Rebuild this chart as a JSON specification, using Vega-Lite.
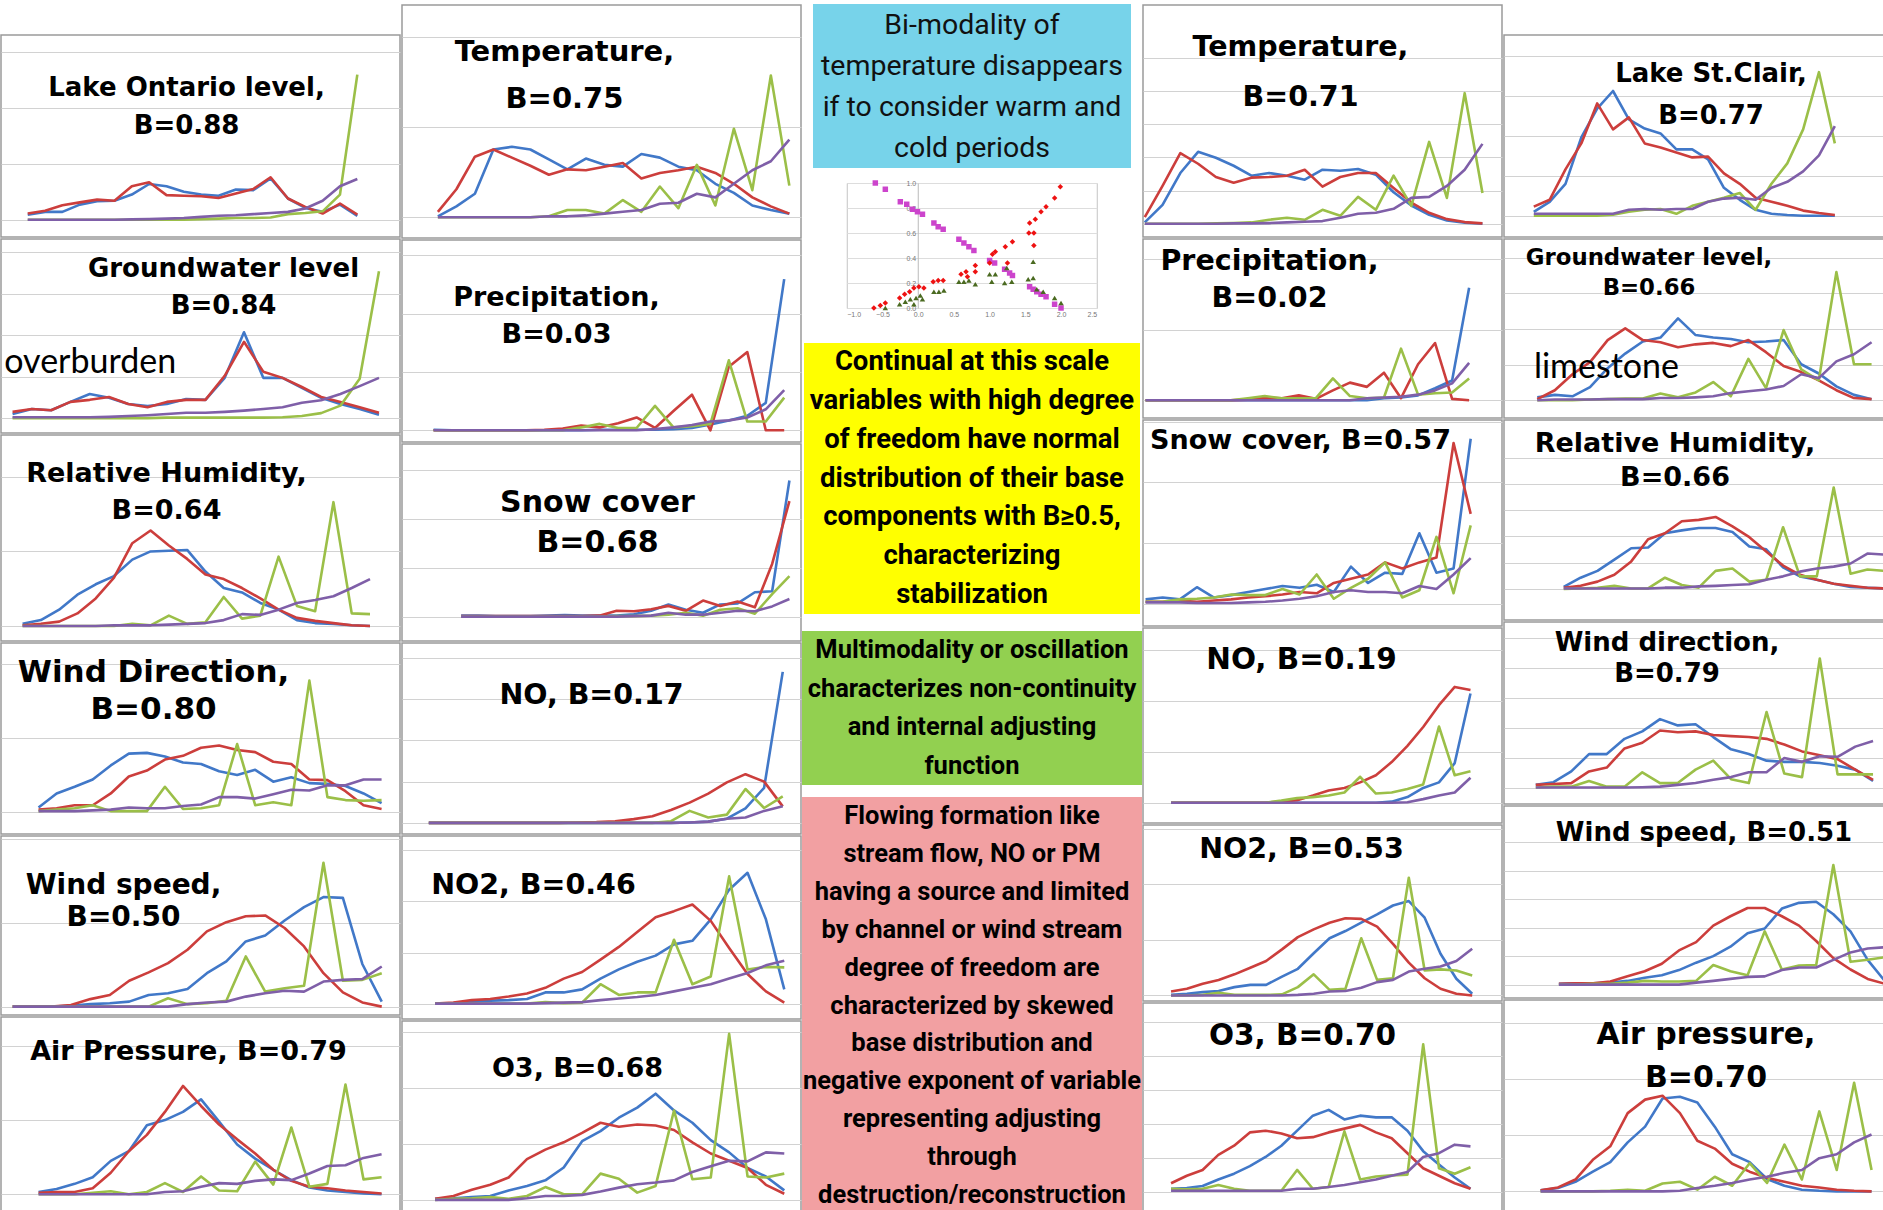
{
"$schema":"https://vega.github.io/schema/vega-lite/v6.json",
"padding":0,
"background":"white",
"spacing":0,
"config":{
 "view":{"stroke":"#9a9a9a","strokeWidth":1.5},
 "axisY":{"labels":false,"ticks":false,"domain":false,"gridColor":"#d2d2d2","gridWidth":1.2,"minExtent":0},
 "title":{"font":"DejaVu Sans","fontWeight":"bold","color":"#000000","anchor":"middle","frame":"group"},
 "line":{"strokeWidth":2.6,"strokeJoin":"round"},
 "range":{"category":["#4178c8","#9bbf48","#7f5fa8","#cc3e3c"]},
 "concat":{"spacing":0}
},
"datasets":{
"a1":[{"i":0,"b":0.09,"r":0.11,"g":0,"p":0},{"i":1,"b":0.14,"r":0.16,"g":0,"p":0},{"i":2,"b":0.14,"r":0.26,"g":0,"p":0},{"i":3,"b":0.27,"r":0.31,"g":0,"p":0},{"i":4,"b":0.33,"r":0.36,"g":0,"p":0},{"i":5,"b":0.34,"r":0.34,"g":0,"p":0},{"i":6,"b":0.45,"r":0.6,"g":0,"p":0.005},{"i":7,"b":0.64,"r":0.67,"g":0,"p":0.01},{"i":8,"b":0.6,"r":0.44,"g":0,"p":0.02},{"i":9,"b":0.5,"r":0.43,"g":0,"p":0.03},{"i":10,"b":0.45,"r":0.42,"g":0.01,"p":0.05},{"i":11,"b":0.43,"r":0.39,"g":0.02,"p":0.07},{"i":12,"b":0.54,"r":0.47,"g":0.03,"p":0.08},{"i":13,"b":0.53,"r":0.55,"g":0.03,"p":0.1},{"i":14,"b":0.74,"r":0.76,"g":0.04,"p":0.12},{"i":15,"b":0.38,"r":0.38,"g":0.1,"p":0.14},{"i":16,"b":0.21,"r":0.23,"g":0.12,"p":0.2},{"i":17,"b":0.14,"r":0.11,"g":0.15,"p":0.34},{"i":18,"b":0.27,"r":0.29,"g":0.45,"p":0.6},{"i":19,"b":0.07,"r":0.09,"g":2.6,"p":0.73}],
"a2":[{"i":0,"b":0.1,"r":0.15,"g":0,"p":0.02},{"i":1,"b":0.22,"r":0.22,"g":0,"p":0.02},{"i":2,"b":0.19,"r":0.19,"g":0,"p":0.02},{"i":3,"b":0.39,"r":0.39,"g":0,"p":0.02},{"i":4,"b":0.58,"r":0.44,"g":0,"p":0.02},{"i":5,"b":0.49,"r":0.51,"g":0,"p":0.03},{"i":6,"b":0.34,"r":0.34,"g":0,"p":0.05},{"i":7,"b":0.29,"r":0.26,"g":0,"p":0.07},{"i":8,"b":0.34,"r":0.39,"g":0.01,"p":0.1},{"i":9,"b":0.46,"r":0.44,"g":0.01,"p":0.13},{"i":10,"b":0.44,"r":0.44,"g":0.01,"p":0.13},{"i":11,"b":0.97,"r":1.02,"g":0.01,"p":0.15},{"i":12,"b":2.07,"r":1.84,"g":0.01,"p":0.18},{"i":13,"b":0.97,"r":1.12,"g":0.01,"p":0.22},{"i":14,"b":0.97,"r":0.97,"g":0.02,"p":0.26},{"i":15,"b":0.73,"r":0.75,"g":0.05,"p":0.37},{"i":16,"b":0.49,"r":0.51,"g":0.12,"p":0.43},{"i":17,"b":0.34,"r":0.39,"g":0.3,"p":0.58},{"i":18,"b":0.22,"r":0.26,"g":0.95,"p":0.77},{"i":19,"b":0.08,"r":0.13,"g":3.54,"p":0.97}],
"a3":[{"i":0,"b":0.03,"r":0.01,"g":0,"p":0},{"i":1,"b":0.08,"r":0.03,"g":0,"p":0},{"i":2,"b":0.22,"r":0.06,"g":0,"p":0},{"i":3,"b":0.42,"r":0.17,"g":0,"p":0},{"i":4,"b":0.56,"r":0.37,"g":0,"p":0},{"i":5,"b":0.67,"r":0.65,"g":0,"p":0.01},{"i":6,"b":0.89,"r":1.11,"g":0.03,"p":0.01},{"i":7,"b":1.0,"r":1.28,"g":0.01,"p":0.01},{"i":8,"b":1.01,"r":1.08,"g":0.14,"p":0.02},{"i":9,"b":1.02,"r":0.9,"g":0.03,"p":0.03},{"i":10,"b":0.73,"r":0.69,"g":0.05,"p":0.04},{"i":11,"b":0.51,"r":0.63,"g":0.39,"p":0.08},{"i":12,"b":0.45,"r":0.51,"g":0.1,"p":0.16},{"i":13,"b":0.31,"r":0.37,"g":0.14,"p":0.15},{"i":14,"b":0.22,"r":0.22,"g":0.93,"p":0.22},{"i":15,"b":0.08,"r":0.11,"g":0.27,"p":0.31},{"i":16,"b":0.04,"r":0.07,"g":0.2,"p":0.35},{"i":17,"b":0.03,"r":0.04,"g":1.66,"p":0.4},{"i":18,"b":0.01,"r":0.01,"g":0.17,"p":0.51},{"i":19,"b":0,"r":0,"g":0.16,"p":0.63}],
"a4":[{"i":0,"b":0.06,"r":0.03,"g":0.01,"p":0.01},{"i":1,"b":0.25,"r":0.05,"g":0.03,"p":0.01},{"i":2,"b":0.34,"r":0.09,"g":0.05,"p":0.01},{"i":3,"b":0.44,"r":0.09,"g":0.09,"p":0.02},{"i":4,"b":0.63,"r":0.25,"g":0.01,"p":0.03},{"i":5,"b":0.79,"r":0.48,"g":0.01,"p":0.06},{"i":6,"b":0.8,"r":0.56,"g":0.01,"p":0.05},{"i":7,"b":0.75,"r":0.71,"g":0.34,"p":0.05},{"i":8,"b":0.67,"r":0.76,"g":0.04,"p":0.08},{"i":9,"b":0.65,"r":0.87,"g":0.05,"p":0.1},{"i":10,"b":0.55,"r":0.9,"g":0.09,"p":0.2},{"i":11,"b":0.5,"r":0.84,"g":0.92,"p":0.2},{"i":12,"b":0.57,"r":0.81,"g":0.09,"p":0.18},{"i":13,"b":0.41,"r":0.68,"g":0.13,"p":0.24},{"i":14,"b":0.47,"r":0.65,"g":0.09,"p":0.3},{"i":15,"b":0.39,"r":0.44,"g":1.78,"p":0.29},{"i":16,"b":0.38,"r":0.43,"g":0.2,"p":0.36},{"i":17,"b":0.35,"r":0.28,"g":0.16,"p":0.36},{"i":18,"b":0.25,"r":0.09,"g":0.15,"p":0.44},{"i":19,"b":0.12,"r":0.04,"g":0.16,"p":0.44}],
"a5":[{"i":0,"b":0,"r":0,"g":0,"p":0},{"i":1,"b":0,"r":0,"g":0,"p":0},{"i":2,"b":0,"r":0,"g":0,"p":0},{"i":3,"b":0.01,"r":0.02,"g":0,"p":0},{"i":4,"b":0.03,"r":0.09,"g":0,"p":0},{"i":5,"b":0.04,"r":0.14,"g":0,"p":0},{"i":6,"b":0.06,"r":0.31,"g":0,"p":0},{"i":7,"b":0.14,"r":0.41,"g":0,"p":0},{"i":8,"b":0.16,"r":0.52,"g":0.1,"p":0},{"i":9,"b":0.21,"r":0.68,"g":0.03,"p":0.03},{"i":10,"b":0.4,"r":0.9,"g":0.04,"p":0.05},{"i":11,"b":0.54,"r":1.01,"g":0.07,"p":0.06},{"i":12,"b":0.78,"r":1.08,"g":0.6,"p":0.12},{"i":13,"b":0.85,"r":1.09,"g":0.18,"p":0.16},{"i":14,"b":1.03,"r":0.94,"g":0.22,"p":0.19},{"i":15,"b":1.19,"r":0.72,"g":0.25,"p":0.18},{"i":16,"b":1.31,"r":0.4,"g":1.72,"p":0.3},{"i":17,"b":1.3,"r":0.17,"g":0.31,"p":0.32},{"i":18,"b":0.51,"r":0.05,"g":0.32,"p":0.33},{"i":19,"b":0.06,"r":0,"g":0.4,"p":0.48}],
"a6":[{"i":0,"b":0.03,"r":0.02,"g":0,"p":0},{"i":1,"b":0.07,"r":0.03,"g":0,"p":0},{"i":2,"b":0.14,"r":0.03,"g":0,"p":0},{"i":3,"b":0.23,"r":0.08,"g":0.02,"p":0},{"i":4,"b":0.45,"r":0.29,"g":0.04,"p":0},{"i":5,"b":0.58,"r":0.58,"g":0,"p":0},{"i":6,"b":0.93,"r":0.8,"g":0.03,"p":0},{"i":7,"b":1.0,"r":1.11,"g":0.15,"p":0.03},{"i":8,"b":1.11,"r":1.46,"g":0.03,"p":0.04},{"i":9,"b":1.28,"r":1.19,"g":0.24,"p":0.1},{"i":10,"b":0.98,"r":0.94,"g":0.05,"p":0.15},{"i":11,"b":0.67,"r":0.74,"g":0.04,"p":0.14},{"i":12,"b":0.48,"r":0.55,"g":0.44,"p":0.18},{"i":13,"b":0.33,"r":0.33,"g":0.13,"p":0.2},{"i":14,"b":0.19,"r":0.18,"g":0.9,"p":0.19},{"i":15,"b":0.09,"r":0.1,"g":0.1,"p":0.28},{"i":16,"b":0.05,"r":0.08,"g":0.14,"p":0.38},{"i":17,"b":0.03,"r":0.05,"g":1.48,"p":0.39},{"i":18,"b":0.01,"r":0.03,"g":0.2,"p":0.49},{"i":19,"b":0,"r":0.01,"g":0.23,"p":0.54}],
"b1":[{"i":0,"b":0.01,"r":0.06,"g":0,"p":0},{"i":1,"b":0.12,"r":0.31,"g":0,"p":0},{"i":2,"b":0.26,"r":0.67,"g":0,"p":0},{"i":3,"b":0.75,"r":0.75,"g":0,"p":0},{"i":4,"b":0.78,"r":0.66,"g":0,"p":0},{"i":5,"b":0.75,"r":0.57,"g":0,"p":0},{"i":6,"b":0.64,"r":0.47,"g":0.01,"p":0.01},{"i":7,"b":0.53,"r":0.53,"g":0.08,"p":0.01},{"i":8,"b":0.65,"r":0.52,"g":0.08,"p":0.02},{"i":9,"b":0.58,"r":0.56,"g":0.04,"p":0.04},{"i":10,"b":0.56,"r":0.6,"g":0.19,"p":0.06},{"i":11,"b":0.7,"r":0.43,"g":0.06,"p":0.08},{"i":12,"b":0.66,"r":0.49,"g":0.34,"p":0.15},{"i":13,"b":0.56,"r":0.52,"g":0.1,"p":0.16},{"i":14,"b":0.52,"r":0.56,"g":0.58,"p":0.26},{"i":15,"b":0.37,"r":0.49,"g":0.13,"p":0.22},{"i":16,"b":0.27,"r":0.37,"g":0.98,"p":0.37},{"i":17,"b":0.13,"r":0.22,"g":0.3,"p":0.52},{"i":18,"b":0.08,"r":0.12,"g":1.57,"p":0.62},{"i":19,"b":0.04,"r":0.04,"g":0.35,"p":0.86}],
"b2":[{"i":0,"b":0.01,"r":0,"g":0,"p":0},{"i":1,"b":0,"r":0,"g":0,"p":0},{"i":2,"b":0,"r":0,"g":0,"p":0},{"i":3,"b":0,"r":0,"g":0,"p":0},{"i":4,"b":0,"r":0,"g":0,"p":0},{"i":5,"b":0,"r":0,"g":0,"p":0},{"i":6,"b":0,"r":0.01,"g":0,"p":0},{"i":7,"b":0,"r":0.03,"g":0,"p":0},{"i":8,"b":0,"r":0.08,"g":0.05,"p":0},{"i":9,"b":0.01,"r":0.05,"g":0.11,"p":0},{"i":10,"b":0.01,"r":0.12,"g":0.04,"p":0},{"i":11,"b":0.01,"r":0.22,"g":0.04,"p":0},{"i":12,"b":0.01,"r":0.04,"g":0.42,"p":0.02},{"i":13,"b":0.02,"r":0.33,"g":0.05,"p":0.05},{"i":14,"b":0.04,"r":0.61,"g":0.07,"p":0.09},{"i":15,"b":0.1,"r":0,"g":0.11,"p":0.15},{"i":16,"b":0.17,"r":1.09,"g":1.2,"p":0.17},{"i":17,"b":0.25,"r":1.34,"g":0.15,"p":0.22},{"i":18,"b":0.47,"r":0,"g":0.15,"p":0.36},{"i":19,"b":2.59,"r":0,"g":0.56,"p":0.69}],
"b3":[{"i":0,"b":0.02,"r":0.01,"g":0,"p":0},{"i":1,"b":0.02,"r":0.01,"g":0,"p":0},{"i":2,"b":0.01,"r":0.01,"g":0,"p":0},{"i":3,"b":0.01,"r":0.01,"g":0,"p":0},{"i":4,"b":0.01,"r":0.01,"g":0,"p":0},{"i":5,"b":0.02,"r":0.01,"g":0,"p":0},{"i":6,"b":0.03,"r":0.01,"g":0,"p":0},{"i":7,"b":0.02,"r":0.01,"g":0,"p":0},{"i":8,"b":0.02,"r":0.02,"g":0,"p":0},{"i":9,"b":0.02,"r":0.12,"g":0.01,"p":0},{"i":10,"b":0.05,"r":0.11,"g":0.01,"p":0.01},{"i":11,"b":0.12,"r":0.15,"g":0.02,"p":0.02},{"i":12,"b":0.25,"r":0.22,"g":0.04,"p":0.08},{"i":13,"b":0.14,"r":0.12,"g":0.08,"p":0.04},{"i":14,"b":0.08,"r":0.33,"g":0.02,"p":0.04},{"i":15,"b":0.25,"r":0.22,"g":0.14,"p":0.08},{"i":16,"b":0.27,"r":0.31,"g":0.17,"p":0.12},{"i":17,"b":0.5,"r":0.19,"g":0.06,"p":0.11},{"i":18,"b":0.52,"r":1.08,"g":0.46,"p":0.21},{"i":19,"b":2.79,"r":2.37,"g":0.83,"p":0.36}],
"b4":[{"i":0,"b":0,"r":0,"g":0,"p":0},{"i":1,"b":0,"r":0,"g":0,"p":0},{"i":2,"b":0,"r":0,"g":0,"p":0},{"i":3,"b":0,"r":0,"g":0,"p":0},{"i":4,"b":0,"r":0,"g":0,"p":0},{"i":5,"b":0,"r":0,"g":0,"p":0},{"i":6,"b":0,"r":0,"g":0,"p":0},{"i":7,"b":0,"r":0,"g":0,"p":0},{"i":8,"b":0,"r":0.01,"g":0,"p":0},{"i":9,"b":0,"r":0.02,"g":0,"p":0},{"i":10,"b":0,"r":0.04,"g":0,"p":0},{"i":11,"b":0,"r":0.09,"g":0,"p":0},{"i":12,"b":0,"r":0.16,"g":0,"p":0},{"i":13,"b":0,"r":0.31,"g":0.04,"p":0},{"i":14,"b":0.01,"r":0.49,"g":0.29,"p":0.01},{"i":15,"b":0.03,"r":0.71,"g":0.13,"p":0.03},{"i":16,"b":0.1,"r":0.98,"g":0.2,"p":0.1},{"i":17,"b":0.35,"r":1.18,"g":0.82,"p":0.13},{"i":18,"b":0.85,"r":1.0,"g":0.36,"p":0.29},{"i":19,"b":3.66,"r":0.4,"g":0.64,"p":0.4}],
"b5":[{"i":0,"b":0,"r":0,"g":0,"p":0},{"i":1,"b":0.01,"r":0.02,"g":0,"p":0},{"i":2,"b":0.04,"r":0.07,"g":0,"p":0},{"i":3,"b":0.06,"r":0.09,"g":0,"p":0},{"i":4,"b":0.07,"r":0.14,"g":0,"p":0},{"i":5,"b":0.09,"r":0.2,"g":0,"p":0},{"i":6,"b":0.22,"r":0.31,"g":0.03,"p":0.01},{"i":7,"b":0.22,"r":0.49,"g":0.01,"p":0.02},{"i":8,"b":0.28,"r":0.62,"g":0.02,"p":0.03},{"i":9,"b":0.49,"r":0.86,"g":0.38,"p":0.07},{"i":10,"b":0.67,"r":1.11,"g":0.17,"p":0.1},{"i":11,"b":0.82,"r":1.4,"g":0.22,"p":0.13},{"i":12,"b":0.94,"r":1.69,"g":0.22,"p":0.17},{"i":13,"b":1.16,"r":1.81,"g":1.25,"p":0.24},{"i":14,"b":1.23,"r":1.94,"g":0.38,"p":0.31},{"i":15,"b":1.65,"r":1.62,"g":0.53,"p":0.38},{"i":16,"b":2.23,"r":1.09,"g":2.49,"p":0.49},{"i":17,"b":2.56,"r":0.58,"g":0.67,"p":0.6},{"i":18,"b":1.65,"r":0.24,"g":0.72,"p":0.75},{"i":19,"b":0.28,"r":0.02,"g":0.71,"p":0.84}],
"b6":[{"i":0,"b":0.02,"r":0.02,"g":0,"p":0},{"i":1,"b":0.03,"r":0.07,"g":0.02,"p":0},{"i":2,"b":0.05,"r":0.18,"g":0.03,"p":0},{"i":3,"b":0.07,"r":0.27,"g":0.05,"p":0},{"i":4,"b":0.17,"r":0.4,"g":0.02,"p":0},{"i":5,"b":0.25,"r":0.73,"g":0.07,"p":0.03},{"i":6,"b":0.35,"r":0.9,"g":0.23,"p":0.07},{"i":7,"b":0.58,"r":1.03,"g":0.1,"p":0.07},{"i":8,"b":1.05,"r":1.2,"g":0.1,"p":0.09},{"i":9,"b":1.23,"r":1.38,"g":0.47,"p":0.15},{"i":10,"b":1.47,"r":1.31,"g":0.38,"p":0.22},{"i":11,"b":1.65,"r":1.35,"g":0.13,"p":0.28},{"i":12,"b":1.9,"r":1.33,"g":0.25,"p":0.31},{"i":13,"b":1.6,"r":1.25,"g":1.6,"p":0.35},{"i":14,"b":1.38,"r":1.03,"g":0.37,"p":0.5},{"i":15,"b":1.07,"r":0.83,"g":0.4,"p":0.6},{"i":16,"b":0.85,"r":0.7,"g":2.97,"p":0.7},{"i":17,"b":0.57,"r":0.57,"g":0.42,"p":0.69},{"i":18,"b":0.42,"r":0.27,"g":0.4,"p":0.85},{"i":19,"b":0.17,"r":0.11,"g":0.47,"p":0.83}],
"c1":[{"i":0,"b":0.04,"r":0.2,"g":0,"p":0},{"i":1,"b":0.57,"r":1.14,"g":0,"p":0},{"i":2,"b":1.53,"r":2.13,"g":0,"p":0},{"i":3,"b":2.17,"r":1.81,"g":0,"p":0},{"i":4,"b":1.99,"r":1.41,"g":0.01,"p":0},{"i":5,"b":1.75,"r":1.24,"g":0.02,"p":0.01},{"i":6,"b":1.45,"r":1.39,"g":0.04,"p":0.01},{"i":7,"b":1.53,"r":1.41,"g":0.12,"p":0.02},{"i":8,"b":1.45,"r":1.45,"g":0.18,"p":0.04},{"i":9,"b":1.33,"r":1.63,"g":0.12,"p":0.06},{"i":10,"b":1.63,"r":1.12,"g":0.42,"p":0.08},{"i":11,"b":1.6,"r":1.41,"g":0.24,"p":0.18},{"i":12,"b":1.65,"r":1.53,"g":0.81,"p":0.3},{"i":13,"b":1.48,"r":1.53,"g":0.42,"p":0.33},{"i":14,"b":0.95,"r":1.08,"g":1.45,"p":0.45},{"i":15,"b":0.55,"r":0.64,"g":0.54,"p":0.78},{"i":16,"b":0.27,"r":0.33,"g":2.47,"p":0.81},{"i":17,"b":0.1,"r":0.14,"g":0.78,"p":1.14},{"i":18,"b":0.03,"r":0.05,"g":3.94,"p":1.63},{"i":19,"b":0,"r":0.01,"g":0.93,"p":2.41}],
"c2":[{"i":0,"b":0,"r":0,"g":0,"p":0},{"i":1,"b":0,"r":0,"g":0,"p":0},{"i":2,"b":0,"r":0,"g":0,"p":0},{"i":3,"b":0,"r":0,"g":0,"p":0},{"i":4,"b":0,"r":0,"g":0,"p":0},{"i":5,"b":0,"r":0,"g":0,"p":0},{"i":6,"b":0,"r":0.01,"g":0.03,"p":0},{"i":7,"b":0,"r":0.04,"g":0.06,"p":0},{"i":8,"b":0,"r":0.03,"g":0.03,"p":0},{"i":9,"b":0,"r":0.07,"g":0.03,"p":0},{"i":10,"b":0,"r":0.02,"g":0.03,"p":0},{"i":11,"b":0,"r":0.14,"g":0.31,"p":0},{"i":12,"b":0,"r":0.25,"g":0.06,"p":0},{"i":13,"b":0,"r":0.19,"g":0.03,"p":0.03},{"i":14,"b":0.03,"r":0.39,"g":0.04,"p":0.04},{"i":15,"b":0.04,"r":0.03,"g":0.73,"p":0.05},{"i":16,"b":0.07,"r":0.51,"g":0.08,"p":0.08},{"i":17,"b":0.17,"r":0.81,"g":0.1,"p":0.14},{"i":18,"b":0.28,"r":0.02,"g":0.11,"p":0.24},{"i":19,"b":1.59,"r":0,"g":0.31,"p":0.53}],
"c3":[{"i":0,"b":0.07,"r":0.03,"g":0.03,"p":0.02},{"i":1,"b":0.1,"r":0.03,"g":0.03,"p":0.02},{"i":2,"b":0.07,"r":0.05,"g":0.07,"p":0.02},{"i":3,"b":0.27,"r":0.03,"g":0.08,"p":0.01},{"i":4,"b":0.1,"r":0.05,"g":0.1,"p":0.01},{"i":5,"b":0.14,"r":0.07,"g":0.15,"p":0.01},{"i":6,"b":0.19,"r":0.1,"g":0.14,"p":0.02},{"i":7,"b":0.24,"r":0.12,"g":0.14,"p":0.03},{"i":8,"b":0.29,"r":0.15,"g":0.24,"p":0.05},{"i":9,"b":0.26,"r":0.19,"g":0.15,"p":0.08},{"i":10,"b":0.31,"r":0.17,"g":0.48,"p":0.12},{"i":11,"b":0.19,"r":0.34,"g":0.08,"p":0.19},{"i":12,"b":0.61,"r":0.41,"g":0.26,"p":0.22},{"i":13,"b":0.34,"r":0.48,"g":0.41,"p":0.19},{"i":14,"b":0.51,"r":0.68,"g":0.68,"p":0.19},{"i":15,"b":0.49,"r":0.58,"g":0.1,"p":0.17},{"i":16,"b":1.16,"r":0.68,"g":0.22,"p":0.29},{"i":17,"b":0.51,"r":0.76,"g":1.1,"p":0.24},{"i":18,"b":0.58,"r":2.65,"g":0.17,"p":0.48},{"i":19,"b":2.72,"r":1.48,"g":1.29,"p":0.75}],
"c4":[{"i":0,"b":0,"r":0,"g":0,"p":0},{"i":1,"b":0,"r":0,"g":0,"p":0},{"i":2,"b":0,"r":0,"g":0,"p":0},{"i":3,"b":0,"r":0,"g":0,"p":0},{"i":4,"b":0,"r":0,"g":0,"p":0},{"i":5,"b":0,"r":0,"g":0,"p":0},{"i":6,"b":0,"r":0,"g":0,"p":0},{"i":7,"b":0,"r":0.02,"g":0.04,"p":0},{"i":8,"b":0,"r":0.05,"g":0.09,"p":0},{"i":9,"b":0,"r":0.14,"g":0.11,"p":0},{"i":10,"b":0,"r":0.24,"g":0.14,"p":0},{"i":11,"b":0,"r":0.29,"g":0.2,"p":0},{"i":12,"b":0,"r":0.4,"g":0.51,"p":0},{"i":13,"b":0,"r":0.54,"g":0.18,"p":0},{"i":14,"b":0.02,"r":0.8,"g":0.2,"p":0},{"i":15,"b":0.11,"r":1.12,"g":0.27,"p":0.01},{"i":16,"b":0.29,"r":1.49,"g":0.36,"p":0.07},{"i":17,"b":0.4,"r":1.92,"g":1.5,"p":0.14},{"i":18,"b":0.78,"r":2.28,"g":0.54,"p":0.2},{"i":19,"b":2.15,"r":2.22,"g":0.62,"p":0.49}],
"c5":[{"i":0,"b":0.01,"r":0.07,"g":0,"p":0},{"i":1,"b":0.03,"r":0.12,"g":0,"p":0},{"i":2,"b":0.06,"r":0.21,"g":0.01,"p":0},{"i":3,"b":0.08,"r":0.28,"g":0.05,"p":0},{"i":4,"b":0.15,"r":0.38,"g":0.01,"p":0},{"i":5,"b":0.19,"r":0.5,"g":0.01,"p":0},{"i":6,"b":0.19,"r":0.62,"g":0.01,"p":0},{"i":7,"b":0.34,"r":0.83,"g":0.02,"p":0},{"i":8,"b":0.48,"r":1.05,"g":0.15,"p":0.01},{"i":9,"b":0.76,"r":1.19,"g":0.38,"p":0.03},{"i":10,"b":1.03,"r":1.31,"g":0.1,"p":0.07},{"i":11,"b":1.16,"r":1.39,"g":0.12,"p":0.08},{"i":12,"b":1.31,"r":1.38,"g":1.03,"p":0.14},{"i":13,"b":1.46,"r":1.24,"g":0.28,"p":0.24},{"i":14,"b":1.62,"r":0.93,"g":0.31,"p":0.28},{"i":15,"b":1.7,"r":0.59,"g":2.12,"p":0.43},{"i":16,"b":1.4,"r":0.31,"g":0.45,"p":0.48},{"i":17,"b":0.75,"r":0.12,"g":0.47,"p":0.52},{"i":18,"b":0.3,"r":0.03,"g":0.45,"p":0.62},{"i":19,"b":0.03,"r":0,"g":0.36,"p":0.84}],
"c6":[{"i":0,"b":0.11,"r":0.27,"g":0.11,"p":0.05},{"i":1,"b":0.13,"r":0.49,"g":0.09,"p":0.05},{"i":2,"b":0.19,"r":0.66,"g":0.11,"p":0.05},{"i":3,"b":0.38,"r":1.1,"g":0.22,"p":0.05},{"i":4,"b":0.55,"r":1.37,"g":0.11,"p":0.05},{"i":5,"b":0.77,"r":1.76,"g":0.05,"p":0.05},{"i":6,"b":1.04,"r":1.81,"g":0.05,"p":0.05},{"i":7,"b":1.37,"r":1.73,"g":0.05,"p":0.05},{"i":8,"b":1.81,"r":1.59,"g":0.66,"p":0.11},{"i":9,"b":2.25,"r":1.62,"g":0.11,"p":0.11},{"i":10,"b":2.42,"r":1.76,"g":0.16,"p":0.16},{"i":11,"b":2.14,"r":1.87,"g":1.79,"p":0.22},{"i":12,"b":2.25,"r":1.98,"g":0.38,"p":0.3},{"i":13,"b":2.2,"r":1.76,"g":0.47,"p":0.38},{"i":14,"b":2.2,"r":1.59,"g":0.5,"p":0.49},{"i":15,"b":1.81,"r":1.15,"g":0.52,"p":0.6},{"i":16,"b":1.21,"r":0.71,"g":4.34,"p":1.04},{"i":17,"b":0.82,"r":0.49,"g":0.71,"p":1.15},{"i":18,"b":0.44,"r":0.27,"g":0.55,"p":1.4},{"i":19,"b":0.11,"r":0.11,"g":0.74,"p":1.35}],
"d1":[{"i":0,"b":0.1,"r":0.23,"g":0,"p":0.05},{"i":1,"b":0.35,"r":0.4,"g":0,"p":0.05},{"i":2,"b":0.8,"r":1.16,"g":0,"p":0.05},{"i":3,"b":1.96,"r":1.81,"g":0,"p":0.05},{"i":4,"b":2.68,"r":2.81,"g":0,"p":0.05},{"i":5,"b":3.12,"r":2.16,"g":0.03,"p":0.05},{"i":6,"b":2.41,"r":2.46,"g":0.1,"p":0.15},{"i":7,"b":2.18,"r":1.81,"g":0.15,"p":0.17},{"i":8,"b":2.06,"r":1.71,"g":0.17,"p":0.15},{"i":9,"b":1.66,"r":1.58,"g":0.05,"p":0.17},{"i":10,"b":1.66,"r":1.46,"g":0.25,"p":0.17},{"i":11,"b":1.41,"r":1.48,"g":0.35,"p":0.35},{"i":12,"b":0.7,"r":1.06,"g":0.45,"p":0.43},{"i":13,"b":0.4,"r":0.8,"g":0.57,"p":0.45},{"i":14,"b":0.15,"r":0.45,"g":0.15,"p":0.4},{"i":15,"b":0.05,"r":0.35,"g":0.8,"p":0.7},{"i":16,"b":0.02,"r":0.25,"g":1.31,"p":0.85},{"i":17,"b":0,"r":0.13,"g":2.16,"p":1.11},{"i":18,"b":0,"r":0.07,"g":3.59,"p":1.51},{"i":19,"b":0,"r":0.02,"g":1.81,"p":2.24}],
"d2":[{"i":0,"b":0.08,"r":0.03,"g":0,"p":0},{"i":1,"b":0.15,"r":0.28,"g":0,"p":0.02},{"i":2,"b":0.11,"r":0.73,"g":0,"p":0.02},{"i":3,"b":0.37,"r":1.07,"g":0.02,"p":0.02},{"i":4,"b":0.9,"r":1.69,"g":0.03,"p":0.03},{"i":5,"b":1.31,"r":2.02,"g":0.05,"p":0.03},{"i":6,"b":1.65,"r":1.69,"g":0.05,"p":0.03},{"i":7,"b":1.76,"r":1.63,"g":0.19,"p":0.06},{"i":8,"b":2.3,"r":1.49,"g":0.08,"p":0.06},{"i":9,"b":1.83,"r":1.57,"g":0.22,"p":0.08},{"i":10,"b":1.76,"r":1.61,"g":0.51,"p":0.11},{"i":11,"b":1.72,"r":1.52,"g":0.11,"p":0.2},{"i":12,"b":1.63,"r":1.69,"g":1.16,"p":0.25},{"i":13,"b":1.65,"r":1.35,"g":0.34,"p":0.3},{"i":14,"b":1.69,"r":0.96,"g":1.97,"p":0.4},{"i":15,"b":1.01,"r":0.79,"g":0.87,"p":0.73},{"i":16,"b":0.75,"r":0.56,"g":0.56,"p":0.62},{"i":17,"b":0.39,"r":0.28,"g":3.6,"p":1.09},{"i":18,"b":0.15,"r":0.06,"g":1.01,"p":1.29},{"i":19,"b":0.03,"r":0.03,"g":1.01,"p":1.63}],
"d3":[{"i":0,"b":0.08,"r":0.05,"g":0,"p":0.02},{"i":1,"b":0.43,"r":0.12,"g":0.02,"p":0.02},{"i":2,"b":0.69,"r":0.28,"g":0.05,"p":0.02},{"i":3,"b":1.12,"r":0.54,"g":0.12,"p":0.02},{"i":4,"b":1.55,"r":1.05,"g":0.02,"p":0.02},{"i":5,"b":1.58,"r":1.89,"g":0.02,"p":0.02},{"i":6,"b":2.12,"r":2.12,"g":0.43,"p":0.05},{"i":7,"b":2.23,"r":2.58,"g":0.15,"p":0.05},{"i":8,"b":2.32,"r":2.63,"g":0.05,"p":0.1},{"i":9,"b":2.32,"r":2.74,"g":0.69,"p":0.12},{"i":10,"b":2.17,"r":2.38,"g":0.78,"p":0.15},{"i":11,"b":1.62,"r":1.97,"g":0.28,"p":0.18},{"i":12,"b":1.51,"r":1.43,"g":0.35,"p":0.35},{"i":13,"b":0.82,"r":0.89,"g":2.35,"p":0.48},{"i":14,"b":0.48,"r":0.54,"g":0.48,"p":0.66},{"i":15,"b":0.35,"r":0.35,"g":0.48,"p":0.78},{"i":16,"b":0.2,"r":0.2,"g":3.86,"p":0.85},{"i":17,"b":0.08,"r":0.12,"g":0.58,"p":0.97},{"i":18,"b":0.05,"r":0.05,"g":0.74,"p":1.35},{"i":19,"b":0.02,"r":0.02,"g":0.69,"p":1.31}],
"d4":[{"i":0,"b":0.09,"r":0.09,"g":0,"p":0},{"i":1,"b":0.18,"r":0.12,"g":0.03,"p":0},{"i":2,"b":0.54,"r":0.15,"g":0.03,"p":0},{"i":3,"b":1.12,"r":0.54,"g":0.22,"p":0},{"i":4,"b":1.12,"r":0.67,"g":0.03,"p":0},{"i":5,"b":1.63,"r":1.31,"g":0.03,"p":0},{"i":6,"b":1.88,"r":1.5,"g":0.51,"p":0.01},{"i":7,"b":2.29,"r":1.91,"g":0.15,"p":0.03},{"i":8,"b":2.08,"r":1.85,"g":0.15,"p":0.09},{"i":9,"b":2.12,"r":1.88,"g":0.6,"p":0.15},{"i":10,"b":1.69,"r":1.76,"g":0.9,"p":0.26},{"i":11,"b":1.28,"r":1.72,"g":0.28,"p":0.35},{"i":12,"b":1.12,"r":1.69,"g":0.15,"p":0.51},{"i":13,"b":0.9,"r":1.63,"g":2.53,"p":0.51},{"i":14,"b":0.86,"r":1.44,"g":0.47,"p":0.99},{"i":15,"b":0.86,"r":1.21,"g":0.35,"p":0.86},{"i":16,"b":0.82,"r":1.08,"g":4.32,"p":1.05},{"i":17,"b":0.73,"r":0.95,"g":0.44,"p":1.03},{"i":18,"b":0.6,"r":0.6,"g":0.44,"p":1.37},{"i":19,"b":0.22,"r":0.26,"g":0.44,"p":1.56}],
"d5":[{"i":0,"b":0.03,"r":0.03,"g":0,"p":0},{"i":1,"b":0.05,"r":0.05,"g":0,"p":0},{"i":2,"b":0.05,"r":0.05,"g":0.03,"p":0},{"i":3,"b":0.07,"r":0.11,"g":0.03,"p":0},{"i":4,"b":0.13,"r":0.29,"g":0.07,"p":0},{"i":5,"b":0.24,"r":0.47,"g":0.13,"p":0},{"i":6,"b":0.33,"r":0.73,"g":0.11,"p":0},{"i":7,"b":0.51,"r":1.2,"g":0.11,"p":0},{"i":8,"b":0.77,"r":1.49,"g":0.13,"p":0.07},{"i":9,"b":1.0,"r":2.07,"g":0.69,"p":0.13},{"i":10,"b":1.33,"r":2.4,"g":0.47,"p":0.2},{"i":11,"b":1.8,"r":2.69,"g":0.33,"p":0.27},{"i":12,"b":1.97,"r":2.69,"g":1.87,"p":0.29},{"i":13,"b":2.67,"r":2.4,"g":0.53,"p":0.51},{"i":14,"b":2.87,"r":2.07,"g":0.67,"p":0.6},{"i":15,"b":2.91,"r":1.53,"g":0.69,"p":0.6},{"i":16,"b":2.47,"r":0.93,"g":4.2,"p":0.87},{"i":17,"b":1.87,"r":0.53,"g":0.8,"p":1.13},{"i":18,"b":0.87,"r":0.2,"g":0.87,"p":1.27},{"i":19,"b":0.13,"r":0.03,"g":0.96,"p":1.31}],
"d6":[{"i":0,"b":0.02,"r":0.02,"g":0,"p":0},{"i":1,"b":0.06,"r":0.07,"g":0,"p":0},{"i":2,"b":0.17,"r":0.21,"g":0,"p":0},{"i":3,"b":0.35,"r":0.56,"g":0,"p":0},{"i":4,"b":0.52,"r":0.8,"g":0.01,"p":0},{"i":5,"b":0.87,"r":1.39,"g":0.03,"p":0},{"i":6,"b":1.15,"r":1.63,"g":0.01,"p":0},{"i":7,"b":1.65,"r":1.7,"g":0.14,"p":0},{"i":8,"b":1.68,"r":1.39,"g":0.17,"p":0.01},{"i":9,"b":1.58,"r":0.9,"g":0.03,"p":0.06},{"i":10,"b":1.15,"r":0.76,"g":0.26,"p":0.1},{"i":11,"b":0.66,"r":0.49,"g":0.1,"p":0.15},{"i":12,"b":0.52,"r":0.35,"g":0.5,"p":0.21},{"i":13,"b":0.22,"r":0.24,"g":0.15,"p":0.26},{"i":14,"b":0.1,"r":0.17,"g":0.83,"p":0.33},{"i":15,"b":0.03,"r":0.1,"g":0.21,"p":0.38},{"i":16,"b":0.01,"r":0.07,"g":1.42,"p":0.59},{"i":17,"b":0,"r":0.03,"g":0.38,"p":0.66},{"i":18,"b":0,"r":0.01,"g":1.93,"p":0.87},{"i":19,"b":0,"r":0,"g":0.38,"p":1.01}],
"sc":[{"x":-0.6,"y":1.0,"s":"m"},{"x":-0.46,"y":0.95,"s":"m"},{"x":-0.25,"y":0.85,"s":"m"},{"x":-0.16,"y":0.83,"s":"m"},{"x":-0.08,"y":0.79,"s":"m"},{"x":-0.01,"y":0.77,"s":"m"},{"x":0.06,"y":0.75,"s":"m"},{"x":0.22,"y":0.68,"s":"m"},{"x":0.28,"y":0.65,"s":"m"},{"x":0.35,"y":0.63,"s":"m"},{"x":0.57,"y":0.55,"s":"m"},{"x":0.64,"y":0.52,"s":"m"},{"x":0.71,"y":0.49,"s":"m"},{"x":0.78,"y":0.46,"s":"m"},{"x":1.0,"y":0.38,"s":"m"},{"x":1.07,"y":0.36,"s":"m"},{"x":1.21,"y":0.31,"s":"m"},{"x":1.28,"y":0.28,"s":"m"},{"x":1.32,"y":0.26,"s":"m"},{"x":1.56,"y":0.17,"s":"m"},{"x":1.61,"y":0.15,"s":"m"},{"x":1.66,"y":0.13,"s":"m"},{"x":1.72,"y":0.11,"s":"m"},{"x":1.79,"y":0.09,"s":"m"},{"x":1.91,"y":0.03,"s":"m"},{"x":2.0,"y":0.0,"s":"m"},
{"x":-0.62,"y":0,"s":"r"},{"x":-0.53,"y":0.02,"s":"r"},{"x":-0.46,"y":0.04,"s":"r"},{"x":-0.26,"y":0.08,"s":"r"},{"x":-0.19,"y":0.11,"s":"r"},{"x":-0.12,"y":0.13,"s":"r"},{"x":-0.06,"y":0.16,"s":"r"},{"x":0.01,"y":0.17,"s":"r"},{"x":0.08,"y":0.16,"s":"r"},{"x":0.21,"y":0.21,"s":"r"},{"x":0.28,"y":0.22,"s":"r"},{"x":0.35,"y":0.22,"s":"r"},{"x":0.6,"y":0.27,"s":"r"},{"x":0.67,"y":0.29,"s":"r"},{"x":0.69,"y":0.25,"s":"r"},{"x":0.8,"y":0.29,"s":"r"},{"x":0.8,"y":0.34,"s":"r"},{"x":1.0,"y":0.36,"s":"r"},{"x":1.04,"y":0.43,"s":"r"},{"x":1.08,"y":0.45,"s":"r"},{"x":1.22,"y":0.49,"s":"r"},{"x":1.32,"y":0.53,"s":"r"},{"x":1.25,"y":0.36,"s":"r"},{"x":1.55,"y":0.6,"s":"r"},{"x":1.62,"y":0.6,"s":"r"},{"x":1.56,"y":0.68,"s":"r"},{"x":1.64,"y":0.71,"s":"r"},{"x":1.72,"y":0.77,"s":"r"},{"x":1.79,"y":0.81,"s":"r"},{"x":1.91,"y":0.88,"s":"r"},{"x":1.99,"y":0.97,"s":"r"},{"x":1.62,"y":0.5,"s":"r"},
{"x":-0.46,"y":0,"s":"g"},{"x":-0.26,"y":0.03,"s":"g"},{"x":-0.18,"y":0.05,"s":"g"},{"x":-0.11,"y":0.07,"s":"g"},{"x":-0.06,"y":0.03,"s":"g"},{"x":-0.03,"y":0.08,"s":"g"},{"x":0.03,"y":0.1,"s":"g"},{"x":0.06,"y":0.07,"s":"g"},{"x":0.22,"y":0.13,"s":"g"},{"x":0.29,"y":0.13,"s":"g"},{"x":0.36,"y":0.14,"s":"g"},{"x":0.57,"y":0.21,"s":"g"},{"x":0.64,"y":0.21,"s":"g"},{"x":0.71,"y":0.22,"s":"g"},{"x":0.8,"y":0.19,"s":"g"},{"x":1.0,"y":0.27,"s":"g"},{"x":1.08,"y":0.27,"s":"g"},{"x":1.03,"y":0.21,"s":"g"},{"x":1.21,"y":0.2,"s":"g"},{"x":1.31,"y":0.21,"s":"g"},{"x":1.24,"y":0.32,"s":"g"},{"x":1.54,"y":0.23,"s":"g"},{"x":1.61,"y":0.24,"s":"g"},{"x":1.61,"y":0.37,"s":"g"},{"x":1.66,"y":0.15,"s":"g"},{"x":1.75,"y":0.13,"s":"g"},{"x":1.91,"y":0.08,"s":"g"},{"x":2.0,"y":0.04,"s":"g"}]
},
"hconcat":[
{"spacing":0,"vconcat":[
 {"width":1,"height":34,"data":{"values":[]},"mark":"rule","encoding":{},"view":{"stroke":null}},
 {"width":399,"height":202,"title":{"text":["Lake Ontario level,","B=0.88"],"fontSize":26,"lineHeight":38,"offset":-104,"dx":-14},"data":{"name":"a1"},"transform":[{"fold":["b","r","g","p"],"as":["s","v"]}],"mark":"line","encoding":{"x":{"field":"i","type":"quantitative","axis":null,"scale":{"domain":[-1.54,21.46],"nice":false}},"y":{"field":"v","type":"quantitative","axis":{"values":[0,1,2,3],"title":null},"scale":{"domain":[-0.31,3.31],"nice":false}},"color":{"field":"s","type":"nominal","legend":null}}},
 {"width":399,"height":194,"title":{"text":["Groundwater level","B=0.84"],"fontSize":26,"lineHeight":37,"offset":-80,"dx":23},"layer":[
  {"data":{"name":"a2"},"transform":[{"fold":["b","r","g","p"],"as":["s","v"]}],"mark":"line","encoding":{"x":{"field":"i","type":"quantitative","axis":null,"scale":{"domain":[-0.6,20.09],"nice":false}},"y":{"field":"v","type":"quantitative","axis":{"values":[0,1,2,3,4],"title":null},"scale":{"domain":[-0.36,4.32],"nice":false}},"color":{"field":"s","type":"nominal","legend":null}}},
  {"data":{"values":[{"i":-0.43,"v":1.32,"t":"overburden"}]},"mark":{"type":"text","align":"left","baseline":"middle","font":"Lato","fontSize":34,"color":"#000000"},"encoding":{"x":{"field":"i","type":"quantitative","axis":null,"scale":{"domain":[-0.6,20.09],"nice":false}},"y":{"field":"v","type":"quantitative","scale":{"domain":[-0.36,4.32],"nice":false}},"text":{"field":"t"}}}]},
 {"width":399,"height":206,"title":{"text":["Relative Humidity,","B=0.64"],"fontSize":27,"lineHeight":37,"offset":-90,"dx":-34},"data":{"name":"a3"},"transform":[{"fold":["b","r","g","p"],"as":["s","v"]}],"mark":"line","encoding":{"x":{"field":"i","type":"quantitative","axis":null,"scale":{"domain":[-1.18,20.64],"nice":false}},"y":{"field":"v","type":"quantitative","axis":{"values":[0,1,2],"title":null},"scale":{"domain":[-0.2,2.56],"nice":false}},"color":{"field":"s","type":"nominal","legend":null}}},
 {"width":399,"height":191,"title":{"text":["Wind Direction,","B=0.80"],"fontSize":31,"lineHeight":37,"offset":-83,"dx":-47},"data":{"name":"a4"},"transform":[{"fold":["b","r","g","p"],"as":["s","v"]}],"mark":"line","encoding":{"x":{"field":"i","type":"quantitative","axis":null,"scale":{"domain":[-2.08,20.02],"nice":false}},"y":{"field":"v","type":"quantitative","axis":{"values":[0,1,2],"title":null},"scale":{"domain":[-0.3,2.29],"nice":false}},"color":{"field":"s","type":"nominal","legend":null}}},
 {"width":399,"height":179,"title":{"text":["Wind speed,","B=0.50"],"fontSize":28,"lineHeight":32,"offset":-96,"dx":-77},"data":{"name":"a5"},"transform":[{"fold":["b","r","g","p"],"as":["s","v"]}],"mark":"line","encoding":{"x":{"field":"i","type":"quantitative","axis":null,"scale":{"domain":[-0.6,19.94],"nice":false}},"y":{"field":"v","type":"quantitative","axis":{"values":[0,1,2],"title":null},"scale":{"domain":[-0.1,2.04],"nice":false}},"color":{"field":"s","type":"nominal","legend":null}}},
 {"width":399,"height":198,"title":{"text":"Air Pressure, B=0.79","fontSize":27,"offset":-49,"dx":-12},"data":{"name":"a6"},"transform":[{"fold":["b","r","g","p"],"as":["s","v"]}],"mark":"line","encoding":{"x":{"field":"i","type":"quantitative","axis":null,"scale":{"domain":[-2.08,20.02],"nice":false}},"y":{"field":"v","type":"quantitative","axis":{"values":[0,1,2],"title":null},"scale":{"domain":[-0.28,2.39],"nice":false}},"color":{"field":"s","type":"nominal","legend":null}}}
]},
{"spacing":0,"vconcat":[
 {"width":1,"height":4,"data":{"values":[]},"mark":"rule","encoding":{},"view":{"stroke":null}},
 {"width":399,"height":233,"title":{"text":["Temperature,","B=0.75"],"fontSize":29,"lineHeight":47,"offset":-109,"dx":-37},"data":{"name":"b1"},"transform":[{"fold":["b","r","g","p"],"as":["s","v"]}],"mark":"line","encoding":{"x":{"field":"i","type":"quantitative","axis":null,"scale":{"domain":[-1.94,19.63],"nice":false}},"y":{"field":"v","type":"quantitative","axis":{"values":[0,1,2],"title":null},"scale":{"domain":[-0.23,2.35],"nice":false}},"color":{"field":"s","type":"nominal","legend":null}}},
 {"width":399,"height":202,"title":{"text":["Precipitation,","B=0.03"],"fontSize":27,"lineHeight":37,"offset":-109,"dx":-45},"data":{"name":"b2"},"transform":[{"fold":["b","r","g","p"],"as":["s","v"]}],"mark":"line","encoding":{"x":{"field":"i","type":"quantitative","axis":null,"scale":{"domain":[-1.71,19.91],"nice":false}},"y":{"field":"v","type":"quantitative","axis":{"values":[0,1,2,3],"title":null},"scale":{"domain":[-0.2,3.26],"nice":false}},"color":{"field":"s","type":"nominal","legend":null}}},
 {"width":399,"height":197,"title":{"text":["Snow cover","B=0.68"],"fontSize":30,"lineHeight":40,"offset":-114,"dx":-4},"data":{"name":"b3"},"transform":[{"fold":["b","r","g","p"],"as":["s","v"]}],"mark":"line","encoding":{"x":{"field":"i","type":"quantitative","axis":null,"scale":{"domain":[-3.42,19.67],"nice":false}},"y":{"field":"v","type":"quantitative","axis":{"values":[0,1,2,3],"title":null},"scale":{"domain":[-0.5,3.54],"nice":false}},"color":{"field":"s","type":"nominal","legend":null}}},
 {"width":399,"height":191,"title":{"text":"NO, B=0.17","fontSize":28.5,"offset":-66,"dx":-10},"data":{"name":"b4"},"transform":[{"fold":["b","r","g","p"],"as":["s","v"]}],"mark":"line","encoding":{"x":{"field":"i","type":"quantitative","axis":null,"scale":{"domain":[-1.44,19.98],"nice":false}},"y":{"field":"v","type":"quantitative","axis":{"values":[0,1,2,3,4],"title":null},"scale":{"domain":[-0.27,4.36],"nice":false}},"color":{"field":"s","type":"nominal","legend":null}}},
 {"width":399,"height":183,"title":{"text":"NO2, B=0.46","fontSize":28.5,"offset":-63,"dx":-68},"data":{"name":"b5"},"transform":[{"fold":["b","r","g","p"],"as":["s","v"]}],"mark":"line","encoding":{"x":{"field":"i","type":"quantitative","axis":null,"scale":{"domain":[-1.8,19.91],"nice":false}},"y":{"field":"v","type":"quantitative","axis":{"values":[0,1,2,3],"title":null},"scale":{"domain":[-0.3,3.28],"nice":false}},"color":{"field":"s","type":"nominal","legend":null}}},
 {"width":399,"height":194,"title":{"text":"O3, B=0.68","fontSize":27,"offset":-62,"dx":-24},"data":{"name":"b6"},"transform":[{"fold":["b","r","g","p"],"as":["s","v"]}],"mark":"line","encoding":{"x":{"field":"i","type":"quantitative","axis":null,"scale":{"domain":[-1.8,19.91],"nice":false}},"y":{"field":"v","type":"quantitative","axis":{"values":[0,1,2,3],"title":null},"scale":{"domain":[-0.27,3.2],"nice":false}},"color":{"field":"s","type":"nominal","legend":null}}}
]},
{"spacing":0,"center":true,"vconcat":[
 {"width":1,"height":4,"data":{"values":[]},"mark":"rule","encoding":{},"view":{"stroke":null}},
 {"width":318,"height":164,"view":{"fill":"#77d3ea","stroke":null},"data":{"values":[{"n":1,"t":"Bi-modality of"},{"n":2,"t":"temperature disappears"},{"n":3,"t":"if to consider warm and"},{"n":4,"t":"cold periods"}]},"mark":{"type":"text","font":"Roboto","fontSize":28.5,"color":"#111111"},"encoding":{"y":{"field":"n","type":"ordinal","axis":null},"text":{"field":"t"}}},
 {"width":1,"height":10,"data":{"values":[]},"mark":"rule","encoding":{},"view":{"stroke":null}},
 {"width":250,"height":125,"view":{"stroke":"#c4c4c4","strokeWidth":1},"data":{"name":"sc"},"mark":{"type":"point","filled":true,"size":30,"opacity":1},"encoding":{"x":{"field":"x","type":"quantitative","scale":{"domain":[-1,2.5],"nice":false},"axis":{"values":[-1,-0.5,0,0.5,1,1.5,2,2.5],"format":".1f","title":null,"labelFontSize":7,"labelColor":"#777777","ticks":false,"domain":false,"grid":false,"labelPadding":2}},"y":{"field":"y","type":"quantitative","scale":{"domain":[0,1],"nice":false},"axis":{"values":[0,0.2,0.4,0.6,0.8,1],"format":".1f","title":null,"labels":true,"labelFontSize":7,"labelColor":"#777777","labelPadding":2,"domain":true,"domainColor":"#bbbbbb","offset":-71,"gridColor":"#dddddd","gridWidth":1}},"fill":{"field":"s","type":"nominal","scale":{"domain":["m","r","g"],"range":["#cc44cc","#ee1111","#4a6a20"]},"legend":null},"shape":{"field":"s","type":"nominal","scale":{"domain":["m","r","g"],"range":["square","diamond","triangle-up"]},"legend":null}}},
 {"width":1,"height":25,"data":{"values":[]},"mark":"rule","encoding":{},"view":{"stroke":null}},
 {"width":336,"height":271,"view":{"fill":"#ffff00","stroke":null},"data":{"values":[{"n":1,"t":"Continual at this scale"},{"n":2,"t":"variables with high degree"},{"n":3,"t":"of freedom have normal"},{"n":4,"t":"distribution of their base"},{"n":5,"t":"components with B≥0.5,"},{"n":6,"t":"characterizing"},{"n":7,"t":"stabilization"}]},"mark":{"type":"text","font":"Roboto","fontWeight":"bold","fontSize":27.5,"color":"#000000"},"encoding":{"y":{"field":"n","type":"ordinal","axis":null},"text":{"field":"t"}}},
 {"width":1,"height":17,"data":{"values":[]},"mark":"rule","encoding":{},"view":{"stroke":null}},
 {"width":340,"height":154,"view":{"fill":"#92d050","stroke":null},"data":{"values":[{"n":1,"t":"Multimodality or oscillation"},{"n":2,"t":"characterizes  non-continuity"},{"n":3,"t":"and  internal adjusting"},{"n":4,"t":"function"}]},"mark":{"type":"text","font":"Roboto","fontWeight":"bold","fontSize":25.5,"color":"#000000"},"encoding":{"y":{"field":"n","type":"ordinal","axis":null},"text":{"field":"t"}}},
 {"width":1,"height":12,"data":{"values":[]},"mark":"rule","encoding":{},"view":{"stroke":null}},
 {"width":340,"height":417,"view":{"fill":"#f2a0a2","stroke":null},"data":{"values":[{"n":1,"t":"Flowing formation like"},{"n":2,"t":"stream flow, NO or PM"},{"n":3,"t":"having a source and limited"},{"n":4,"t":"by channel or wind stream"},{"n":5,"t":"degree of freedom are"},{"n":6,"t":"characterized by skewed"},{"n":7,"t":"base distribution and"},{"n":8,"t":"negative exponent of variable"},{"n":9,"t":"representing adjusting"},{"n":10,"t":"through"},{"n":11,"t":"destruction/reconstruction"}]},"mark":{"type":"text","font":"Roboto","fontWeight":"bold","fontSize":25.5,"color":"#000000"},"encoding":{"y":{"field":"n","type":"ordinal","axis":null},"text":{"field":"t"}}}
]},
{"spacing":0,"vconcat":[
 {"width":1,"height":4,"data":{"values":[]},"mark":"rule","encoding":{},"view":{"stroke":null}},
 {"width":359,"height":232,"title":{"text":["Temperature,","B=0.71"],"fontSize":28.5,"lineHeight":50,"offset":-106,"dx":-22},"data":{"name":"c1"},"transform":[{"fold":["b","r","g","p"],"as":["s","v"]}],"mark":"line","encoding":{"x":{"field":"i","type":"quantitative","axis":null,"scale":{"domain":[-0.1,20.1],"nice":false}},"y":{"field":"v","type":"quantitative","axis":{"values":[0,1,2,3,4,5],"title":null},"scale":{"domain":[-0.4,6.6],"nice":false}},"color":{"field":"s","type":"nominal","legend":null}}},
 {"width":359,"height":179,"title":{"text":["Precipitation,","B=0.02"],"fontSize":28.5,"lineHeight":37,"offset":-73,"dx":-53},"data":{"name":"c2"},"transform":[{"fold":["b","r","g","p"],"as":["s","v"]}],"mark":"line","encoding":{"x":{"field":"i","type":"quantitative","axis":null,"scale":{"domain":[-0.15,20.93],"nice":false}},"y":{"field":"v","type":"quantitative","axis":{"values":[0,1,2],"title":null},"scale":{"domain":[-0.25,2.28],"nice":false}},"color":{"field":"s","type":"nominal","legend":null}}},
 {"width":359,"height":206,"title":{"text":"Snow cover, B=0.57","fontSize":27,"offset":-35,"dx":-22},"data":{"name":"c3"},"transform":[{"fold":["b","r","g","p"],"as":["s","v"]}],"mark":"line","encoding":{"x":{"field":"i","type":"quantitative","axis":null,"scale":{"domain":[-0.15,20.83],"nice":false}},"y":{"field":"v","type":"quantitative","axis":{"values":[0,1,2,3],"title":null},"scale":{"domain":[-0.37,3.03],"nice":false}},"color":{"field":"s","type":"nominal","legend":null}}},
 {"width":359,"height":195,"title":{"text":"NO, B=0.19","fontSize":29.5,"offset":-47,"dx":-21},"data":{"name":"c4"},"transform":[{"fold":["b","r","g","p"],"as":["s","v"]}],"mark":"line","encoding":{"x":{"field":"i","type":"quantitative","axis":null,"scale":{"domain":[-1.78,21.0],"nice":false}},"y":{"field":"v","type":"quantitative","axis":{"values":[0,1,2,3],"title":null},"scale":{"domain":[-0.4,3.44],"nice":false}},"color":{"field":"s","type":"nominal","legend":null}}},
 {"width":359,"height":176,"title":{"text":"NO2, B=0.53","fontSize":28.5,"offset":-38,"dx":-21},"data":{"name":"c5"},"transform":[{"fold":["b","r","g","p"],"as":["s","v"]}],"mark":"line","encoding":{"x":{"field":"i","type":"quantitative","axis":null,"scale":{"domain":[-1.77,20.88],"nice":false}},"y":{"field":"v","type":"quantitative","axis":{"values":[0,1,2,3],"title":null},"scale":{"domain":[-0.1,3.07],"nice":false}},"color":{"field":"s","type":"nominal","legend":null}}},
 {"width":359,"height":212,"title":{"text":"O3, B=0.70","fontSize":29.5,"offset":-48,"dx":-20},"data":{"name":"c6"},"transform":[{"fold":["b","r","g","p"],"as":["s","v"]}],"mark":"line","encoding":{"x":{"field":"i","type":"quantitative","axis":null,"scale":{"domain":[-1.78,21.0],"nice":false}},"y":{"field":"v","type":"quantitative","axis":{"values":[0,1,2,3,4,5],"title":null},"scale":{"domain":[-0.66,5.55],"nice":false}},"color":{"field":"s","type":"nominal","legend":null}}}
]},
{"spacing":0,"vconcat":[
 {"width":1,"height":34,"data":{"values":[]},"mark":"rule","encoding":{},"view":{"stroke":null}},
 {"width":382,"height":202,"title":{"text":["Lake St.Clair,","B=0.77"],"fontSize":26,"lineHeight":42,"offset":-94,"dx":16},"data":{"name":"d1"},"transform":[{"fold":["b","r","g","p"],"as":["s","v"]}],"mark":"line","encoding":{"x":{"field":"i","type":"quantitative","axis":null,"scale":{"domain":[-1.88,22.23],"nice":false}},"y":{"field":"v","type":"quantitative","axis":{"values":[0,1,2,3,4],"title":null},"scale":{"domain":[-0.53,4.52],"nice":false}},"color":{"field":"s","type":"nominal","legend":null}}},
 {"width":382,"height":179,"title":{"text":["Groundwater level,","B=0.66"],"fontSize":22.8,"lineHeight":30,"offset":-61,"dx":-46},"layer":[
  {"data":{"name":"d2"},"transform":[{"fold":["b","r","g","p"],"as":["s","v"]}],"mark":"line","encoding":{"x":{"field":"i","type":"quantitative","axis":null,"scale":{"domain":[-1.89,19.82],"nice":false}},"y":{"field":"v","type":"quantitative","axis":{"values":[0,1,2,3,4],"title":null},"scale":{"domain":[-0.5,4.53],"nice":false}},"color":{"field":"s","type":"nominal","legend":null}}},
  {"data":{"values":[{"i":-0.19,"v":0.9,"t":"limestone"}]},"mark":{"type":"text","align":"left","baseline":"middle","font":"Lato","fontSize":34,"color":"#000000"},"encoding":{"x":{"field":"i","type":"quantitative","axis":null,"scale":{"domain":[-1.89,19.82],"nice":false}},"y":{"field":"v","type":"quantitative","scale":{"domain":[-0.5,4.53],"nice":false}},"text":{"field":"t"}}}]},
 {"width":382,"height":200,"title":{"text":["Relative Humidity,","B=0.66"],"fontSize":27,"lineHeight":34,"offset":-72,"dx":-20},"data":{"name":"d3"},"transform":[{"fold":["b","r","g","p"],"as":["s","v"]}],"mark":"line","encoding":{"x":{"field":"i","type":"quantitative","axis":null,"scale":{"domain":[-3.54,19.1],"nice":false}},"y":{"field":"v","type":"quantitative","axis":{"values":[0,1,2,3,4,5],"title":null},"scale":{"domain":[-1.18,6.43],"nice":false}},"color":{"field":"s","type":"nominal","legend":null}}},
 {"width":382,"height":182,"title":{"text":["Wind direction,","B=0.79"],"fontSize":26,"lineHeight":31,"offset":-65,"dx":-28},"data":{"name":"d4"},"transform":[{"fold":["b","r","g","p"],"as":["s","v"]}],"mark":"line","encoding":{"x":{"field":"i","type":"quantitative","axis":null,"scale":{"domain":[-1.79,19.73],"nice":false}},"y":{"field":"v","type":"quantitative","axis":{"values":[0,1,2,3,4,5],"title":null},"scale":{"domain":[-0.55,5.54],"nice":false}},"color":{"field":"s","type":"nominal","legend":null}}},
 {"width":382,"height":192,"title":{"text":"Wind speed, B=0.51","fontSize":26,"offset":-40,"dx":9},"data":{"name":"d5"},"transform":[{"fold":["b","r","g","p"],"as":["s","v"]}],"mark":"line","encoding":{"x":{"field":"i","type":"quantitative","axis":null,"scale":{"domain":[-3.2,19.07],"nice":false}},"y":{"field":"v","type":"quantitative","axis":{"values":[0,1,2,3,4,5],"title":null},"scale":{"domain":[-0.47,6.27],"nice":false}},"color":{"field":"s","type":"nominal","legend":null}}},
 {"width":382,"height":215,"title":{"text":["Air pressure,","B=0.70"],"fontSize":30,"lineHeight":43,"offset":-93,"dx":11},"data":{"name":"d6"},"transform":[{"fold":["b","r","g","p"],"as":["s","v"]}],"mark":"line","encoding":{"x":{"field":"i","type":"quantitative","axis":null,"scale":{"domain":[-2.1,19.83],"nice":false}},"y":{"field":"v","type":"quantitative","axis":{"values":[0,1,2,3],"title":null},"scale":{"domain":[-0.42,3.4],"nice":false}},"color":{"field":"s","type":"nominal","legend":null}}}
]}
]
}
